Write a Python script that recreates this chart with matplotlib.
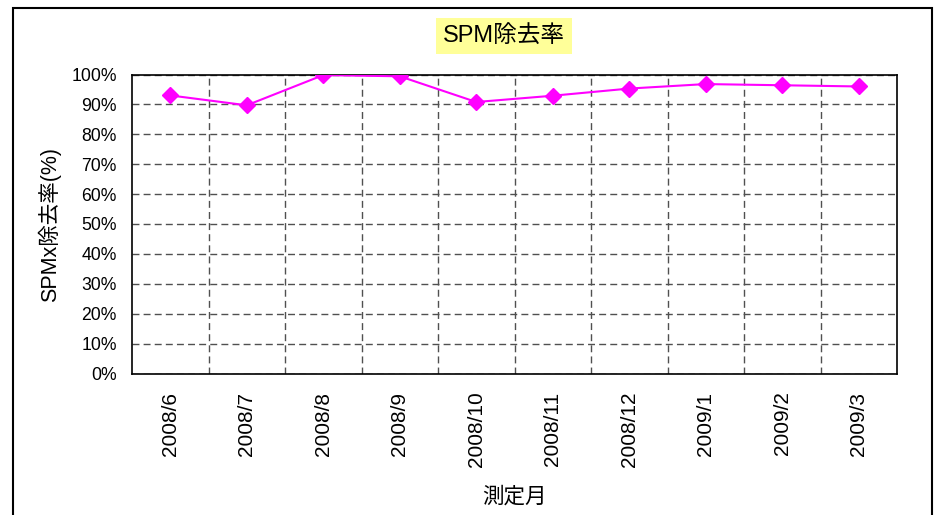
import matplotlib
matplotlib.use("Agg")
import matplotlib.pyplot as plt
from matplotlib.patches import Rectangle
from matplotlib.ticker import FixedLocator, PercentFormatter

plt.rcParams["font.family"] = ["Liberation Sans", "Noto Sans CJK JP", "DejaVu Sans"]

months = ["2008/6", "2008/7", "2008/8", "2008/9", "2008/10",
          "2008/11", "2008/12", "2009/1", "2009/2", "2009/3"]
removal_rate = [93.0, 89.7, 99.8, 99.4, 90.8, 92.9, 95.3, 96.8, 96.4, 96.0]

fig = plt.figure(figsize=(9.44, 5.15), dpi=100)
ax = fig.add_axes([132 / 944, 1 - 373.5 / 515, (897 - 132) / 944, (373.5 - 74.5) / 515])

# outer chart border (bottom edge falls outside the picture)
fig.patches.append(Rectangle((13 / 944, -0.05), (932 - 13) / 944, 1.05 - 8 / 515,
                             transform=fig.transFigure, fill=False,
                             edgecolor="black", linewidth=1.5, clip_on=False))

x = list(range(len(months)))
ax.plot(x, removal_rate, color="#FF00FF", linewidth=1.5,
        marker="D", markersize=8, markerfacecolor="#FF00FF",
        markeredgecolor="#FF00FF", zorder=3)

ax.set_xlim(-0.5, len(months) - 0.5)
ax.set_ylim(0, 100)
ax.set_yticks(range(0, 101, 10))
ax.yaxis.set_major_formatter(PercentFormatter(decimals=0))
ax.set_xticks(x)
ax.set_xticklabels(months, rotation=90)
ax.xaxis.set_minor_locator(FixedLocator([i + 0.5 for i in x[:-1]]))

ax.tick_params(axis="both", which="both", length=0)
ax.tick_params(axis="x", pad=13, labelsize=15)
ax.tick_params(axis="y", pad=11, labelsize=12.7)

ax.grid(False)
ax.yaxis.grid(True, which="major", linestyle=(0, (5, 3)), color="#505050", linewidth=1)
ax.xaxis.grid(True, which="minor", linestyle=(0, (5, 3)), color="#505050", linewidth=1)
ax.set_axisbelow(True)

for side in ax.spines.values():
    side.set_color("black")
    side.set_linewidth(1.2)

ax.set_ylabel("SPMx除去率(%)", fontsize=15.5, labelpad=7)
ax.set_xlabel("測定月", fontsize=15.5, labelpad=14)

fig.text(504 / 944, 1 - 36 / 515, "SPM除去率", fontsize=17, ha="center", va="center",
         bbox=dict(boxstyle="square,pad=0.3", facecolor="#FFFF99", edgecolor="none"))

fig.savefig("out.png", dpi=100)
